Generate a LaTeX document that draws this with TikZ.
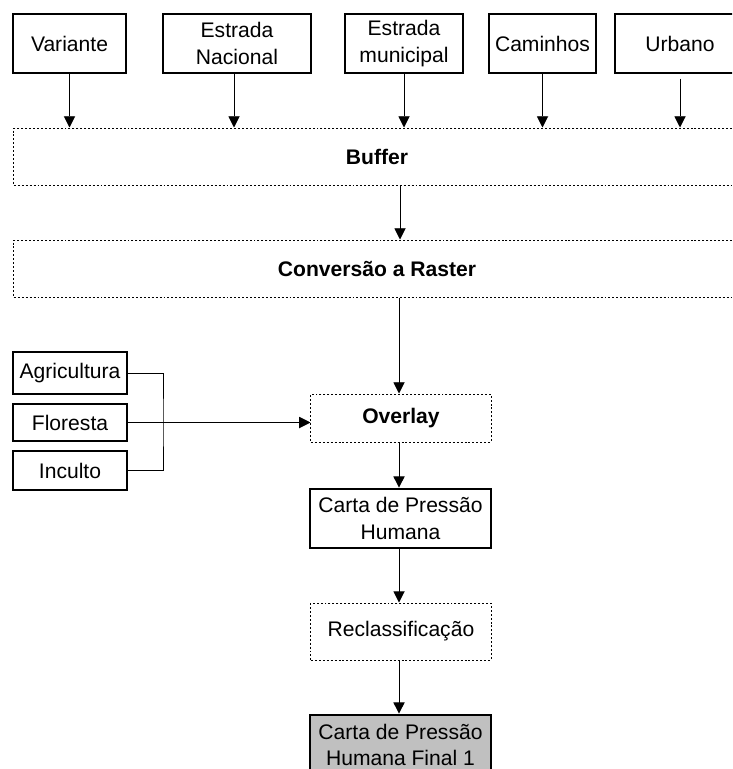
\documentclass[tikz,border=0pt]{standalone}
\usepackage{fontspec}
\setmainfont{Liberation Sans}
\usepackage{xcolor}
\definecolor{lineDark}{HTML}{000000}
\definecolor{finalGray}{HTML}{C0C0C0}
\usepackage{tikz}
\usetikzlibrary{positioning,calc,arrows.meta}
\tikzset{%
  dataBox/.style={%
    rectangle,
    draw=lineDark,
    line width=2pt,
    fill=white,
    inner sep=0pt,
    align=center,
    font=\fontsize{15}{19}\selectfont
  },
  processBox/.style={%
    rectangle,
    draw=lineDark,
    line width=0.7pt,
    dash pattern=on 1.4pt off 1.4pt,
    inner sep=0pt,
    align=center,
    font=\fontsize{15}{19}\selectfont
  },
  arrowLine/.style={%
    -{Triangle[length=8pt,width=8pt]},
    line width=0.7pt,
    color=lineDark
  },
  joinLine/.style={%
    line width=0.7pt,
    color=lineDark
  }
}

\begin{document}
\begin{tikzpicture}[x=0.025cm,y=-0.025cm]
            \path[use as bounding box,clip] (0,0) rectangle (732,769);

            \node[dataBox, minimum width=2.825cm, minimum height=1.475cm] (variante) at (69.5,43.5) {Variante};
            \node[dataBox, minimum width=3.7cm, minimum height=1.475cm] (estNacional) at (237,43.5) {Estrada\\Nacional};
            \node[dataBox, minimum width=2.95cm, minimum height=1.475cm] (estMunicipal) at (404,43.5) {Estrada\\municipal};
            \node[dataBox, minimum width=2.675cm, minimum height=1.475cm] (caminhos) at (542.5,43.5) {Caminhos};
            \node[dataBox, minimum width=3.25cm, minimum height=1.475cm] (urbano) at (680,43.5) {Urbano};

            \node[processBox, minimum width=18.15cm, minimum height=1.425cm] (buffer) at (377,156.5) {\bfseries Buffer};
            \node[processBox, minimum width=18.15cm, minimum height=1.425cm] (raster) at (377,268.5) {\bfseries Conversão a Raster};

            \node[dataBox, minimum width=2.85cm, minimum height=1.05cm] (agricultura) at (70,373) {Agricultura};
            \node[dataBox, minimum width=2.85cm, minimum height=0.925cm] (floresta) at (70,422.5) {Floresta};
            \node[dataBox, minimum width=2.85cm, minimum height=0.975cm] (inculto) at (70,470.5) {Inculto};
            \coordinate (juncao) at (163,423);

            \node[processBox, minimum width=4.5cm, minimum height=1.2cm] (overlay) at (401,418) {\bfseries Overlay};
            \node[dataBox, minimum width=4.525cm, minimum height=1.475cm] (carta) at (400.5,518.5) {Carta de Pressão\\Humana};
            \node[processBox, minimum width=4.5cm, minimum height=1.425cm] (reclass) at (401,631.5) {Reclassificação};
            \node[dataBox, fill=finalGray, minimum width=4.525cm, minimum height=1.5cm] (cartaFinal) at (400.5,745) {Carta de Pressão\\Humana Final 1};

            \draw[arrowLine] (variante) -- (variante |- buffer.north);
            \draw[arrowLine] (estNacional.south -| 234,0) -- (buffer.north -| 234,0);
            \draw[arrowLine] (estMunicipal) -- (estMunicipal |- buffer.north);
            \draw[arrowLine] (caminhos) -- (caminhos |- buffer.north);
            \draw[arrowLine] ([yshift=-3pt]urbano.south) -- (urbano |- buffer.north);

            \draw[arrowLine] (buffer.south -| 400,0) -- (raster.north -| 400,0);
            \draw[arrowLine] (raster.south -| 399,0) -- (overlay.north -| 399,0);

            \draw[joinLine] (agricultura) -| (juncao) |- (inculto);
            \draw[arrowLine] (floresta) -- (floresta -| overlay.west);

            \draw[arrowLine] (overlay.south -| 399,0) -- (carta.north -| 399,0);
            \draw[arrowLine] (carta.south -| 399,0) -- (reclass.north -| 399,0);
            \draw[arrowLine] (reclass.south -| 399,0) -- (cartaFinal.north -| 399,0);
        \end{tikzpicture}
\end{document}
